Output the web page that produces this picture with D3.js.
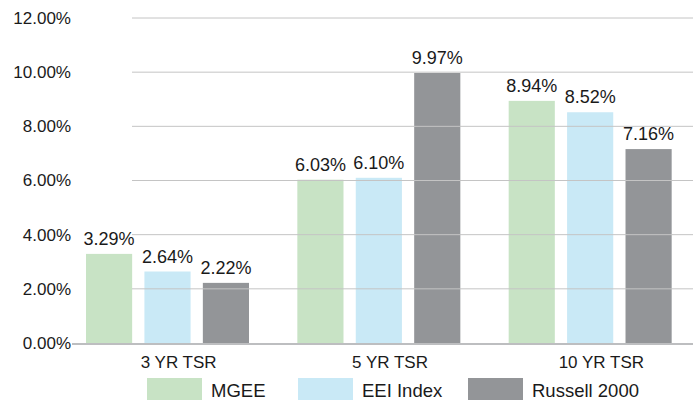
<!DOCTYPE html>
<html>
<head>
<meta charset="utf-8">
<script src="https://d3js.org/d3.v7.min.js"></script>
<style>
  body { margin: 0; background: #fff; }
  text { font-family: "Liberation Sans", Arial, sans-serif; fill: #1a1a1a; }
</style>
</head>
<body>
<script>
var w = 693, h = 402;

// data
var categories = ["3 YR TSR", "5 YR TSR", "10 YR TSR"];
var series = ["MGEE", "EEI Index", "Russell 2000"];
var mgee = [3.29, 6.03, 8.94];
var eei = [2.64, 6.10, 8.52];
var russell = [2.22, 9.97, 7.16];
var yTicks = [0, 2, 4, 6, 8, 10, 12];
var colors = ["#c8e3c5", "#c9e9f6", "#939598"];

var values = [mgee, eei, russell];
var rows = [];
categories.forEach(function (c, i) {
    series.forEach(function (s, j) {
        rows.push({ cat: c, ser: s, v: values[j][i], color: colors[j] });
    });
});

var svg = d3.select("body").append("svg")
    .attr("width", w)
    .attr("height", h);

var y = d3.scaleLinear().domain([0, 12]).range([343, 18]);
var x0 = d3.scaleBand().domain(categories).range([62, 696]);
var x1 = d3.scaleBand().domain(series).range([24, 187]).paddingInner(0.21);

// bars
svg.selectAll("rect.bar")
    .data(rows)
    .enter()
    .append("rect")
    .attr("class", "bar")
    .attr("x", function (d) { return x0(d.cat) + x1(d.ser); })
    .attr("y", function (d) { return y(d.v); })
    .attr("width", x1.bandwidth())
    .attr("height", function (d) { return y(0) - y(d.v); })
    .attr("fill", function (d) { return d.color; });

// gridlines (drawn over bars)
svg.selectAll("line.grid")
    .data(yTicks.filter(function (t) { return t > 0; }))
    .enter()
    .append("line")
    .attr("class", "grid")
    .attr("x1", 132).attr("x2", w)
    .attr("y1", function (d) { return y(d); })
    .attr("y2", function (d) { return y(d); })
    .attr("stroke", "#c4c4c4")
    .attr("stroke-width", 1);

// zero axis
svg.append("line")
    .attr("x1", 72).attr("x2", w)
    .attr("y1", y(0) + 1).attr("y2", y(0) + 1)
    .attr("stroke", "#bdbec0")
    .attr("stroke-width", 2);

// y tick labels
svg.selectAll("text.ytick")
    .data(yTicks)
    .enter()
    .append("text")
    .attr("class", "ytick")
    .attr("x", 71)
    .attr("y", function (d) { return y(d); })
    .attr("dy", "0.35em")
    .attr("text-anchor", "end")
    .style("font-size", "17px")
    .text(function (d) { return d.toFixed(2) + "%"; });

// value labels
svg.selectAll("text.val")
    .data(rows)
    .enter()
    .append("text")
    .attr("class", "val")
    .attr("x", function (d) { return x0(d.cat) + x1(d.ser) + x1.bandwidth() / 2; })
    .attr("y", function (d) { return y(d.v) - 9; })
    .attr("text-anchor", "middle")
    .style("font-size", "18px")
    .text(function (d) { return d.v.toFixed(2) + "%"; });

// category labels
svg.selectAll("text.cat")
    .data(categories)
    .enter()
    .append("text")
    .attr("class", "cat")
    .attr("x", function (d) { return x0(d) + x0.bandwidth() / 2 + 11; })
    .attr("y", 368)
    .attr("text-anchor", "middle")
    .style("font-size", "17px")
    .text(function (d) { return d; });

// legend
var legX = [147, 298, 468];
var leg = svg.selectAll("g.leg")
    .data(series)
    .enter()
    .append("g")
    .attr("class", "leg")
    .attr("transform", function (d, i) { return "translate(" + legX[i] + ",378)"; });
leg.append("rect")
    .attr("width", 55).attr("height", 22)
    .attr("fill", function (d, i) { return colors[i]; });
leg.append("text")
    .attr("x", 64).attr("y", 19)
    .style("font-size", "18.5px")
    .text(function (d) { return d; });
</script>
</body>
</html>
